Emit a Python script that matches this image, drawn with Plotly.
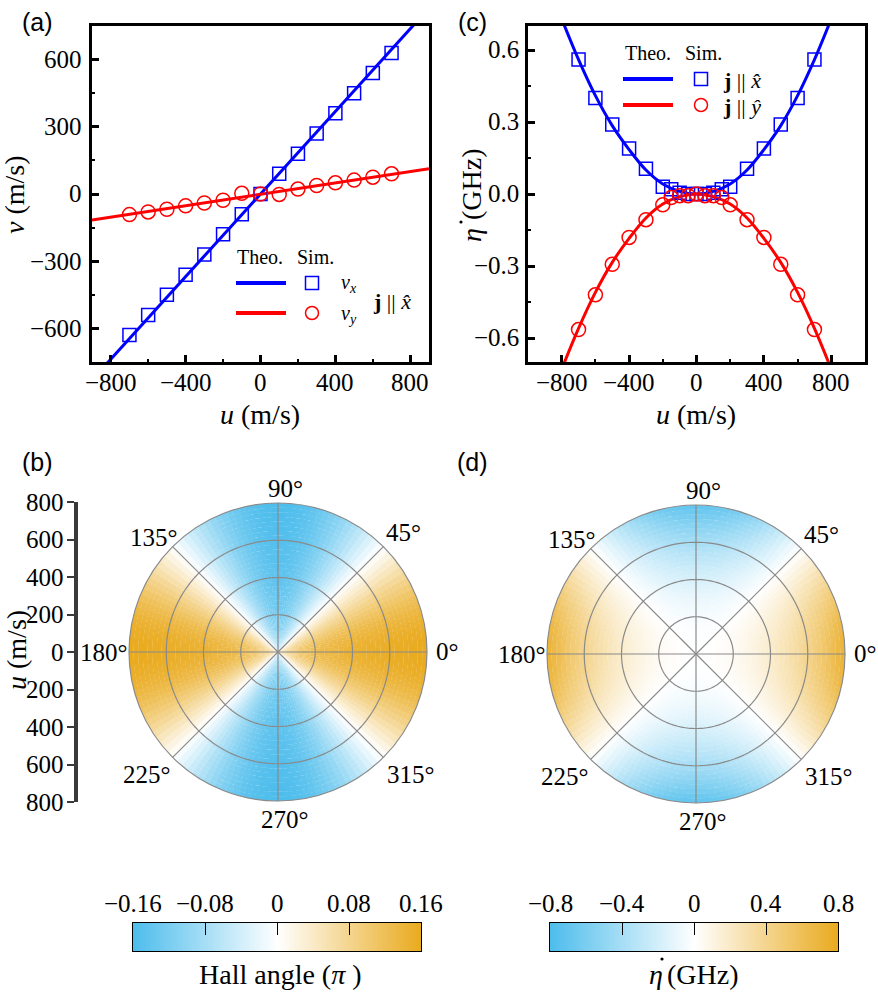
import plotly.graph_objects as go

W, H = 878, 1007
SERIF = "Liberation Serif"
SANS = "Liberation Sans"

# ---- panel (a): velocity vs drive ----
u_sim = [-700, -600, -500, -400, -300, -200, -100, 0, 100, 200, 300, 400, 500, 600, 700]
vx_sim = [-630, -540, -450, -360, -270, -180, -90, 0, 90, 180, 270, 360, 450, 540, 630]
vy_sim = [-92, -80, -68, -53, -40, -28, 3, 0, -2, 22, 38, 50, 62, 75, 90]
u_line = [-900, 900]
vx_line = [-830, 830]
vy_line = [-116, 113]

# ---- panel (c): eta dot vs drive ----
u_c = [-700, -600, -500, -400, -300, -200, -150, -100, -50, 0, 50, 100, 150, 200, 300, 400, 500, 600, 700]
eta_x_sim = [0.56, 0.40, 0.29, 0.19, 0.105, 0.03, 0.02, 0.005, 0.0, 0.0, 0.0, 0.005, 0.02, 0.03, 0.105, 0.19, 0.29, 0.40, 0.56]
eta_y_sim = [-0.565, -0.42, -0.293, -0.181, -0.107, -0.045, -0.015, -0.007, -0.007, 0.0, -0.007, -0.007, -0.015, -0.045, -0.107, -0.181, -0.293, -0.42, -0.565]
u_theo = [-800, -700, -600, -500, -400, -300, -200, -100, 0, 100, 200, 300, 400, 500, 600, 700, 800]
eta_x_theo = [0.73, 0.56, 0.41, 0.285, 0.185, 0.10, 0.042, 0.011, 0.0, 0.011, 0.042, 0.10, 0.185, 0.285, 0.41, 0.56, 0.73]
eta_y_theo = [-0.73, -0.56, -0.41, -0.285, -0.185, -0.10, -0.042, -0.011, 0.0, -0.011, -0.042, -0.10, -0.185, -0.285, -0.41, -0.56, -0.73]

# ---- panels (b), (d): polar maps, read per 25 m/s ring and per 2.5 deg sector ----
ring_r = [12.5 + 25 * i for i in range(32)]
hall_amp = [0.05, 0.07, 0.085, 0.097, 0.106, 0.113, 0.118, 0.122, 0.126, 0.129, 0.132, 0.135,
            0.138, 0.14, 0.142, 0.144, 0.146, 0.147, 0.149, 0.15, 0.151, 0.152, 0.153, 0.154,
            0.155, 0.156, 0.157, 0.157, 0.158, 0.159, 0.159, 0.16]
eta_amp = [0.0002, 0.0016, 0.0044, 0.0087, 0.0143, 0.0214, 0.0298, 0.0397, 0.051, 0.0637, 0.0779, 0.0934,
           0.110, 0.129, 0.148, 0.170, 0.192, 0.216, 0.242, 0.269, 0.297, 0.326, 0.358, 0.390,
           0.424, 0.459, 0.496, 0.534, 0.574, 0.615, 0.657, 0.701]
# angular weight from 0 deg (max) to 45 deg (zero), mirrored to 90 deg (min)
prof_half = [0.999, 0.991, 0.976, 0.954, 0.924, 0.887, 0.843, 0.793, 0.737,
             0.676, 0.609, 0.537, 0.462, 0.383, 0.301, 0.216, 0.131, 0.044]
prof_val = prof_half + [-v for v in reversed(prof_half)]

# ---- tick labels ----
a_xticks = [-800, -400, 0, 400, 800]
a_yticks = [-600, -300, 0, 300, 600]
c_xticks = [-800, -400, 0, 400, 800]
c_yticks = [-0.6, -0.3, 0.0, 0.3, 0.6]
u_scale = [-800, -600, -400, -200, 0, 200, 400, 600, 800]
u_scale_text = ["800", "600", "400", "200", "0", "200", "400", "600", "800"]
hall_ticks = [-0.16, -0.08, 0, 0.08, 0.16]
hall_ticktext = ["\u22120.16", "\u22120.08", "0", "0.08", "0.16"]
eta_ticks = [-0.8, -0.4, 0, 0.4, 0.8]
eta_ticktext = ["\u22120.8", "\u22120.4", "0", "0.4", "0.8"]
ang_text = ["0\u00b0", "45\u00b0", "90\u00b0", "135\u00b0", "180\u00b0", "225\u00b0", "270\u00b0", "315\u00b0"]

cs = [[0, "#4EBDEC"], [0.5, "#FFFFFF"], [1, "#E9AA1E"]]
GRID = "#8a8a8a"


def px(x):
    return x / W


def py(y):
    return 1 - y / H


def num(v, fmt="{:g}"):
    return fmt.format(v).replace("-", "\u2212")


fig = go.Figure()

# (a)
fig.add_trace(go.Scatter(x=u_line, y=vx_line, mode="lines", line=dict(color="#0000FF", width=3), xaxis="x", yaxis="y"))
fig.add_trace(go.Scatter(x=u_line, y=vy_line, mode="lines", line=dict(color="#FF0000", width=3), xaxis="x", yaxis="y"))
fig.add_trace(go.Scatter(x=u_sim, y=vx_sim, mode="markers", xaxis="x", yaxis="y",
                         marker=dict(symbol="square-open", size=13, color="#0000FF", line=dict(width=1.5))))
fig.add_trace(go.Scatter(x=u_sim, y=vy_sim, mode="markers", xaxis="x", yaxis="y",
                         marker=dict(symbol="circle-open", size=14, color="#FF0000", line=dict(width=1.5))))

# (c)
fig.add_trace(go.Scatter(x=u_theo, y=eta_x_theo, mode="lines", line=dict(color="#0000FF", width=3, shape="spline"), xaxis="x2", yaxis="y2"))
fig.add_trace(go.Scatter(x=u_theo, y=eta_y_theo, mode="lines", line=dict(color="#FF0000", width=3, shape="spline"), xaxis="x2", yaxis="y2"))
fig.add_trace(go.Scatter(x=u_c, y=eta_x_sim, mode="markers", xaxis="x2", yaxis="y2",
                         marker=dict(symbol="square-open", size=13, color="#0000FF", line=dict(width=1.5))))
fig.add_trace(go.Scatter(x=u_c, y=eta_y_sim, mode="markers", xaxis="x2", yaxis="y2",
                         marker=dict(symbol="circle-open", size=14, color="#FF0000", line=dict(width=1.5))))

# polar maps built from ring amplitudes x angular profile
thetas, bases, hall_c, eta_c = [], [], [], []
for i, r in enumerate(ring_r):
    for k in range(144):
        t = k % 72
        if t >= 36:
            t = 71 - t
        p = prof_val[t]
        thetas.append(1.25 + 2.5 * k)
        bases.append(r - 12.5)
        hall_c.append(hall_amp[i] * p)
        eta_c.append(eta_amp[i] * p)

n = len(thetas)
for sp, col, ca in (("polar", hall_c, "coloraxis"), ("polar2", eta_c, "coloraxis2")):
    fig.add_trace(go.Barpolar(r=[26] * n, base=bases, theta=thetas, width=[2.8] * n, subplot=sp,
                              marker=dict(color=col, coloraxis=ca, line=dict(width=0)), hoverinfo="skip"))
    # grid drawn on top of the map
    circ = list(range(0, 361, 2))
    for rr in (200, 400, 600):
        fig.add_trace(go.Scatterpolar(r=[rr] * len(circ), theta=circ, mode="lines", subplot=sp,
                                      line=dict(color=GRID, width=1.2), hoverinfo="skip"))
    for a in (0, 45, 90, 135):
        fig.add_trace(go.Scatterpolar(r=[800, 0, 800], theta=[a, a, a + 180], mode="lines", subplot=sp,
                                      line=dict(color=GRID, width=1.2), hoverinfo="skip"))

# colour bars as heatmaps so the tick labels sit on top
fig.add_trace(go.Heatmap(x=hall_ticks, y=[0, 1], z=[hall_ticks, hall_ticks], coloraxis="coloraxis",
                         zsmooth="best", xaxis="x4", yaxis="y4", hoverinfo="skip"))
fig.add_trace(go.Heatmap(x=eta_ticks, y=[0, 1], z=[eta_ticks, eta_ticks], coloraxis="coloraxis2",
                         zsmooth="best", xaxis="x5", yaxis="y5", hoverinfo="skip"))

# empty trace so the radial scale axis of (b) is drawn
fig.add_trace(go.Scatter(x=[], y=[], xaxis="x3", yaxis="y3"))

ax = dict(showline=True, mirror=True, linecolor="black", linewidth=2.5, ticks="inside", ticklen=7,
          tickwidth=2.5, tickcolor="black", showgrid=False, zeroline=False, showticklabels=False)
mn = dict(ticks="inside", ticklen=3.5, tickwidth=2, tickcolor="black", showgrid=False)

ang = dict(rotation=0, direction="counterclockwise", showline=True, linecolor=GRID, linewidth=1.2,
           showgrid=False, ticks="", showticklabels=False, layer="above traces")
rad = dict(range=[0, 800], showticklabels=False, ticks="", showline=False, showgrid=False)

cbx = dict(side="top", ticks="inside", ticklen=12, tickwidth=1, tickcolor="black", showline=True, mirror=True,
           linewidth=1, linecolor="black", showgrid=False, zeroline=False, tickmode="array", showticklabels=False)
cby = dict(range=[0, 1], showticklabels=False, ticks="", showline=True, mirror=True, linewidth=1,
           linecolor="black", showgrid=False, zeroline=False)

fig.update_layout(
    template="none",
    width=W, height=H, autosize=False, margin=dict(l=0, r=0, t=0, b=0, autoexpand=False),
    paper_bgcolor="white", plot_bgcolor="white", showlegend=False,
    font=dict(family=SERIF, size=25, color="black"),
    xaxis=dict(ax, domain=[px(92), px(429)], anchor="y", range=[-900, 900], tickmode="array", tickvals=a_xticks,
               minor=dict(mn, dtick=200, tick0=0)),
    yaxis=dict(ax, domain=[py(362), py(26)], anchor="x", range=[-750, 750], tickmode="array", tickvals=a_yticks,
               minor=dict(mn, dtick=150, tick0=0)),
    xaxis2=dict(ax, domain=[px(528), px(865)], anchor="y2", range=[-1000, 1000], tickmode="array", tickvals=c_xticks,
                minor=dict(mn, dtick=200, tick0=0)),
    yaxis2=dict(ax, domain=[py(362), py(26)], anchor="x2", range=[-0.7, 0.7], tickmode="array", tickvals=c_yticks,
                minor=dict(mn, dtick=0.15, tick0=0)),
    xaxis3=dict(domain=[0, 0.002], anchor="y3", visible=False, range=[0, 1]),
    yaxis3=dict(domain=[py(802), py(502)], anchor="free", position=px(76), side="left", range=[-800, 800],
                tickmode="array", tickvals=u_scale, showticklabels=False,
                ticks="outside", ticklen=7, tickwidth=2, tickcolor="#3a3a3a", showline=True, linewidth=3.5,
                linecolor="#3a3a3a", showgrid=False, zeroline=False),
    xaxis4=dict(cbx, domain=[px(133), px(421)], anchor="y4", range=[-0.16, 0.16], tickvals=hall_ticks),
    yaxis4=dict(cby, domain=[py(951), py(923)], anchor="x4"),
    xaxis5=dict(cbx, domain=[px(550), px(838)], anchor="y5", range=[-0.8, 0.8], tickvals=eta_ticks),
    yaxis5=dict(cby, domain=[py(951), py(923)], anchor="x5"),
    polar=dict(domain=dict(x=[px(129), px(427)], y=[py(801), py(503)]), bgcolor="white",
               angularaxis=ang, radialaxis=rad),
    polar2=dict(domain=dict(x=[px(547), px(845)], y=[py(803), py(505)]), bgcolor="white",
                angularaxis=ang, radialaxis=rad),
    coloraxis=dict(cmin=-0.16, cmax=0.16, colorscale=cs, showscale=False),
    coloraxis2=dict(cmin=-0.8, cmax=0.8, colorscale=cs, showscale=False),
)

ann = []
TF = dict(size=25, family=SERIF, color="black")


def text(x, y, s, size=28, family=SERIF, angle=0):
    ann.append(dict(x=px(x), y=py(y), xref="paper", yref="paper", text=s, showarrow=False,
                    font=dict(size=size, family=family, color="black"), textangle=angle,
                    xanchor="center", yanchor="middle"))


# tick labels, placed through each axis' own scale
for xa, ya, vals in (("x", "y", a_xticks), ("x2", "y2", c_xticks)):
    for v in vals:
        ann.append(dict(x=v, xref=xa, y=0, yref=ya + " domain", text=num(v), showarrow=False, font=TF,
                        xanchor="center", yanchor="middle", yshift=-21))
for xa, ya, vals, fmt, sh in (("x", "y", a_yticks, "{:g}", -8), ("x2", "y2", c_yticks, "{:.1f}", -7)):
    for v in vals:
        ann.append(dict(x=0, xref=xa + " domain", y=v, yref=ya, text=num(v, fmt), showarrow=False, font=TF,
                        xanchor="right", yanchor="middle", xshift=sh))
for v, t in zip(u_scale, u_scale_text):
    ann.append(dict(x=px(76), xref="paper", y=v, yref="y3", text=t, showarrow=False, font=TF,
                    xanchor="right", yanchor="middle", xshift=-10))
for xa, ya, vals, texts in (("x4", "y4", hall_ticks, hall_ticktext), ("x5", "y5", eta_ticks, eta_ticktext)):
    for v, t in zip(vals, texts):
        ann.append(dict(x=v, xref=xa, y=1, yref=ya + " domain", text=t, showarrow=False, font=TF,
                        xanchor="center", yanchor="middle", yshift=20))

# angular labels around each polar map (offsets from the centre, px)
ang_off = [(169, -1), (125, -120), (7, -164), (-124, -115), (-174, 0), (-131, 122), (7, 167), (133, 122)]
for cx, cy in ((278, 652), (696, 654)):
    for t, (dx, dy) in zip(ang_text, ang_off):
        text(cx + dx, cy + dy, t, size=25)

# panel labels
text(37, 22, "(a)", size=25, family=SANS)
text(472, 22, "(c)", size=25, family=SANS)
text(37, 462, "(b)", size=25, family=SANS)
text(473, 462, "(d)", size=25, family=SANS)

# axis titles
text(260, 414, "<i>u</i> (m/s)")
text(696, 414, "<i>u</i> (m/s)")
text(14, 195, "<i>v</i> (m/s)", angle=-90)
text(471, 235, "<i>\u03b7</i>", angle=-90)
text(471, 184, "(GHz)", angle=-90)
text(16, 650, "<i>u</i> (m/s)", angle=-90)
text(280, 974, "Hall angle (<i>\u03c0</i> )")
text(656, 974, "<i>\u03b7</i>")
text(703, 974, "(GHz)")

# legend (a)
text(260, 257, "Theo.", size=20)
text(315, 257, "Sim.", size=20)
text(349, 283, "<i>v<sub>x</sub></i>", size=20)
text(349, 314, "<i>v<sub>y</sub></i>", size=20)
text(392, 301, "<b>j</b> || <i>x\u0302</i>", size=22)
# legend (c)
text(648, 53, "Theo.", size=20)
text(703, 53, "Sim.", size=20)
text(742, 80, "<b>j</b> || <i>x\u0302</i>", size=22)
text(742, 106, "<b>j</b> || <i>y\u0302</i>", size=22)

shapes = []


def leg_line(x0, x1, y, color):
    shapes.append(dict(type="line", xref="paper", yref="paper", x0=px(x0), x1=px(x1), y0=py(y), y1=py(y),
                       line=dict(color=color, width=4)))


def mark(kind, x, y, color, s=6.5, fill=None, lw=1.5):
    shapes.append(dict(type=kind, xref="paper", yref="paper", xsizemode="pixel", ysizemode="pixel",
                       xanchor=px(x), yanchor=py(y), x0=-s, x1=s, y0=-s, y1=s,
                       fillcolor=fill, line=dict(color=color, width=lw)))


leg_line(236, 286, 283, "#0000FF")
leg_line(236, 286, 313, "#FF0000")
mark("rect", 312, 283, "#0000FF")
mark("circle", 312, 313, "#FF0000")
leg_line(623, 673, 79, "#0000FF")
leg_line(623, 673, 105, "#FF0000")
mark("rect", 701, 79, "#0000FF")
mark("circle", 701, 105, "#FF0000")
# time-derivative dots over eta
mark("circle", 461, 222, "black", s=1.6, fill="black", lw=0)
mark("circle", 662, 959, "black", s=1.6, fill="black", lw=0)

fig.update_layout(annotations=ann, shapes=shapes)

fig.write_html("out.html", config={"displayModeBar": False},
               post_script="document.body.style.margin = '0px';")
